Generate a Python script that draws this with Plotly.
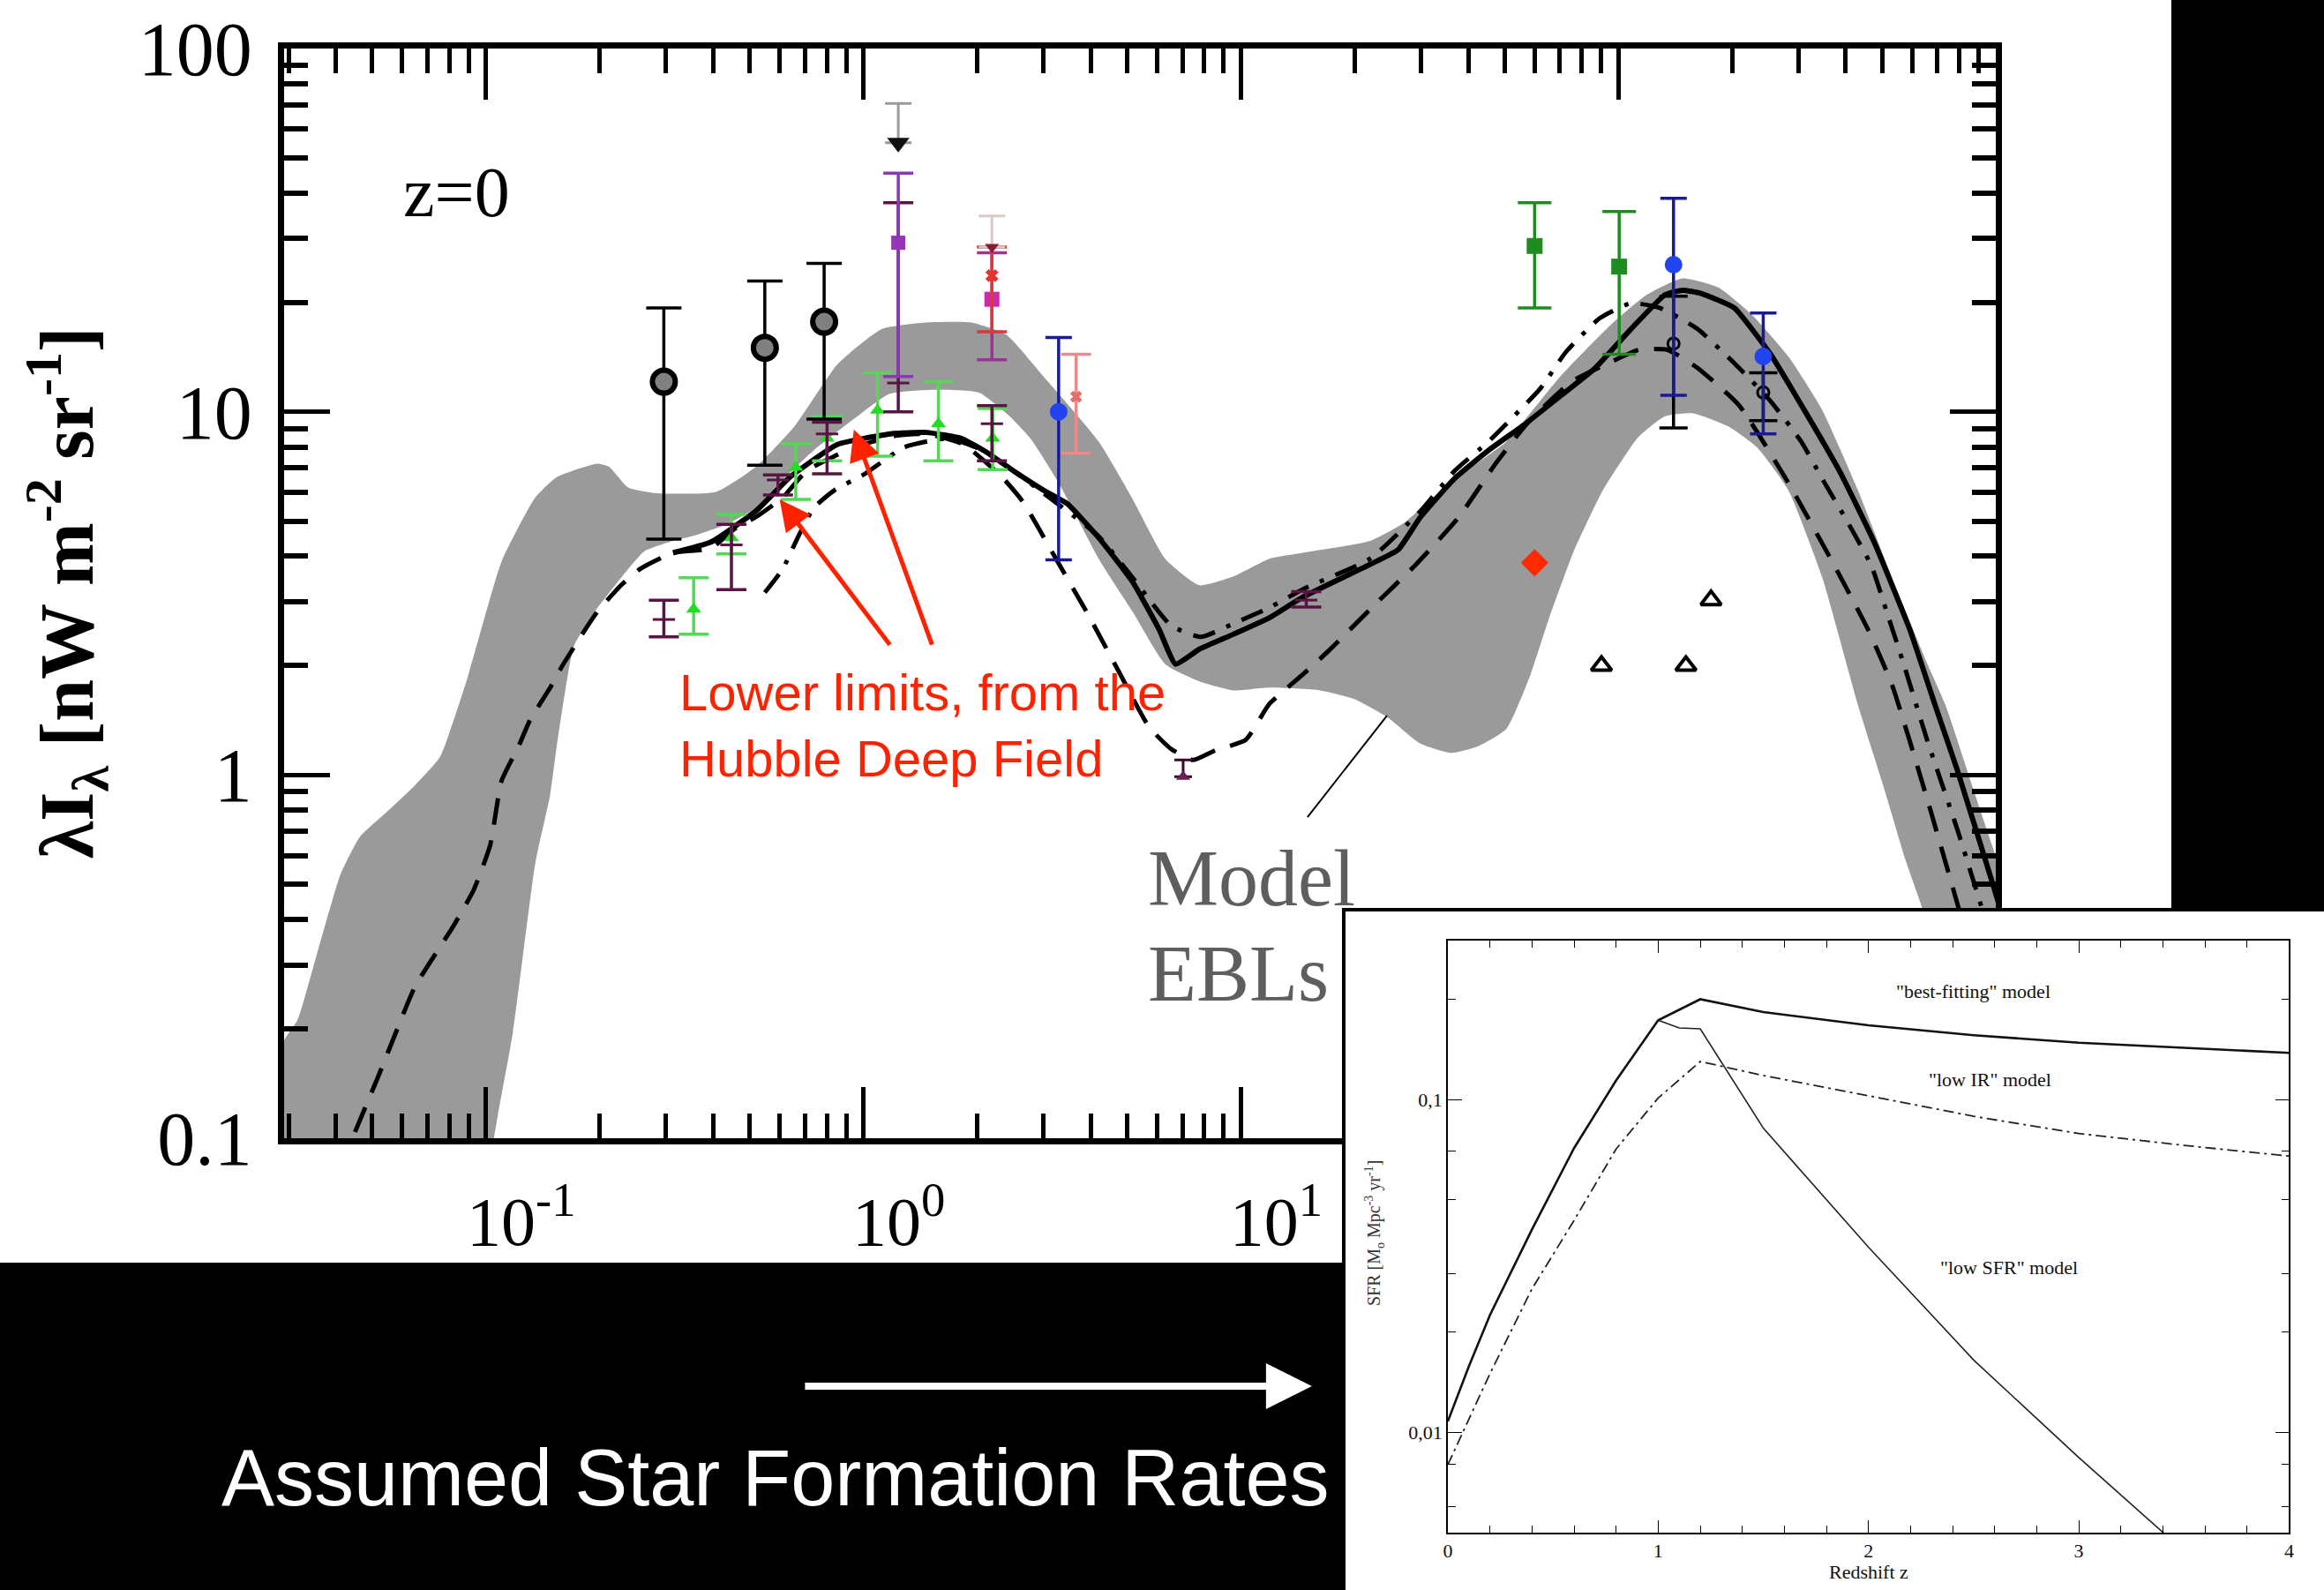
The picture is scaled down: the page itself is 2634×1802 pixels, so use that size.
import plotly.graph_objects as go

W, H = 2634, 1802
SERIF = "Liberation Serif"
SANS = "Liberation Sans"

# ---------------- main panel data (wavelength [micron], lambda*I_lambda [nW m^-2 sr^-1]) -------------
band_upper_wl = [0.0262, 0.0292, 0.0317, 0.0360, 0.0412, 0.0463, 0.0546, 0.0648, 0.0755, 0.0889, 0.110,
                 0.135, 0.154, 0.197, 0.212, 0.238, 0.283, 0.407, 0.519, 0.656, 0.853, 1.12, 1.47, 1.93,
                 2.39, 3.00, 4.20, 5.17, 6.30, 7.76, 9.55, 11.9, 14.6, 22.0, 27.0, 33.3, 41.0, 50.5, 70.6,
                 96.9, 119, 148, 184, 227, 282, 347, 431, 531, 659, 735, 865, 991, 1135]
band_upper_val = [0.130, 0.186, 0.212, 0.333, 0.533, 0.675, 0.791, 0.936, 1.12, 1.82, 3.87, 5.80, 6.61,
                  7.20, 7.06, 6.19, 5.97, 6.02, 7.06, 9.10, 13.5, 16.9, 17.6, 17.6, 16.3, 12.5, 8.28, 5.74,
                  3.94, 3.33, 3.52, 3.94, 4.09, 4.41, 4.94, 5.97, 7.06, 8.28, 12.6, 17.6, 21.0, 23.3, 22.0,
                  18.4, 14.2, 10.1, 6.08, 3.49, 2.02, 1.56, 0.936, 0.614, 0.402]
band_lower_wl = [0.0262, 0.102, 0.105, 0.118, 0.135, 0.148, 0.154, 0.171, 0.194, 0.228, 0.263, 0.313,
                 0.361, 0.433, 0.519, 0.594, 0.738, 0.942, 1.17, 1.54, 2.02, 2.42, 2.77, 3.29, 4.20, 5.17,
                 6.30, 7.76, 9.55, 11.9, 16.2, 19.9, 24.5, 29.9, 36.1, 42.5, 50.5, 58.4, 65.6, 75.9, 91.0,
                 113, 133, 158, 196, 233, 282, 347, 431, 503, 576, 636, 791]
band_lower_val = [0.029, 0.074, 0.1, 0.197, 0.569, 0.885, 1.20, 2.26, 2.81, 3.49, 4.13, 4.41, 4.58, 4.90,
                  5.43, 6.31, 7.83, 9.54, 11.2, 11.5, 11.3, 9.8, 8.44, 6.37, 3.94, 2.81, 2.02, 1.81, 1.71,
                  1.74, 1.71, 1.62, 1.44, 1.22, 1.15, 1.20, 1.34, 1.88, 2.71, 4.09, 6.08, 8.52, 9.72, 9.90,
                  9.10, 7.98, 6.08, 3.49, 1.56, 0.936, 0.585, 0.434, 0.190]

solid_wl = [0.313, 0.395, 0.519, 0.639, 0.853, 1.18, 1.47, 1.82, 2.11, 2.53, 3.00, 3.47, 4.20, 5.17, 6.08,
            6.71, 7.76, 9.55, 11.9, 14.6, 22.0, 26.1, 29.9, 36.8, 45.3, 56.8, 70.6, 86.9, 108, 133, 148,
            165, 203, 253, 311, 387, 476, 592, 690, 791, 991, 1135]
solid_val = [4.09, 4.38, 5.33, 6.61, 8.13, 8.69, 8.77, 8.44, 7.76, 6.81, 6.08, 5.58, 4.50, 3.40, 2.51,
             2.02, 2.22, 2.44, 2.71, 3.09, 3.80, 4.17, 5.13, 6.55, 7.83, 9.28, 11.1, 13.2, 16.9, 21.0, 21.6,
             21.2, 19.3, 14.4, 10.1, 6.81, 4.38, 2.51, 1.56, 1.03, 0.485, 0.303]

dash_wl = [0.0412, 0.0443, 0.0517, 0.0571, 0.0648, 0.082, 0.093, 0.1027, 0.110, 0.122, 0.131, 0.148,
           0.159, 0.183, 0.197, 0.228, 0.256, 0.313, 0.395, 0.457, 0.519, 0.611, 0.706, 0.838, 1.00, 1.23,
           1.47, 1.84, 2.31, 2.65, 3.20, 3.94, 4.72, 5.70, 6.53, 7.48, 8.57, 10.3, 11.9, 14.5, 17.1, 22.0,
           29.1, 37.8, 47.0, 57.3, 75.2, 92.7, 113, 135, 162, 209, 282, 363, 459, 531, 659, 791, 991]
dash_val = [0.081, 0.1, 0.147, 0.190, 0.261, 0.384, 0.485, 0.643, 0.964, 1.20, 1.42, 1.74, 1.99, 2.51,
            2.81, 3.33, 3.69, 4.09, 4.21, 4.77, 5.13, 5.80, 6.87, 7.55, 8.13, 8.61, 8.69, 8.13, 6.67, 5.64,
            4.02, 2.76, 1.95, 1.36, 1.18, 1.10, 1.17, 1.25, 1.57, 1.88, 2.20, 2.86, 3.80, 5.13, 7.13, 9.28,
            12.1, 13.5, 14.8, 14.8, 13.2, 10.4, 6.37, 3.98, 2.51, 1.77, 0.853, 0.442, 0.190]

dd_wl = [0.548, 0.611, 0.675, 0.738, 0.838, 1.01, 1.28, 1.68, 2.11, 3.00, 4.20, 5.17, 6.53, 7.83, 9.55,
         11.9, 14.8, 22.0, 29.9, 36.8, 45.3, 52.4, 62.2, 72.6, 89.3, 108, 129, 162, 203, 251, 305, 350,
         408, 468, 517, 570, 659, 791, 991]
dd_val = [3.18, 3.69, 4.58, 5.43, 6.08, 6.75, 7.98, 8.44, 7.76, 5.97, 4.54, 3.49, 2.58, 2.40, 2.61, 2.89,
          3.27, 3.94, 5.33, 6.87, 8.28, 9.63, 11.6, 14.6, 18.1, 19.9, 19.3, 16.9, 13.6, 10.8, 8.28, 6.43,
          4.90, 3.77, 2.76, 2.02, 1.24, 0.707, 0.333]

# measurements: value, upper and lower end of the error bar
blk_wl, blk_val, blk_hi, blk_lo = [0.296, 0.548, 0.787], [12.1, 15.0, 17.7], [19.3, 22.9, 25.6], [4.46, 7.13, 9.55]
blk2_wl, blk2_val, blk2_hi, blk2_lo = [140, 242], [15.4, 11.3], [20.8, 12.8], [9.02, 9.45]
mar_wl = [0.296, 0.447, 0.594, 0.801, 1.237, 2.19, 14.9]
mar_val = [2.68, 4.30, 6.49, 8.69, 12.0, 9.27, 3.03]
mar_hi = [3.03, 4.90, 6.70, 9.36, 37.6, 10.4, 3.2]
mar_lo = [2.40, 3.24, 5.90, 6.75, 10.0, 7.33, 2.9]
mtri_wl, mtri_val, mtri_hi, mtri_lo = [7.03], [0.99], [1.10], [0.99]
grn_wl = [0.355, 0.447, 0.662, 0.801, 1.09, 1.58, 2.20]
grn_val = [2.86, 4.50, 7.03, 8.45, 10.1, 9.27, 8.45]
grn_hi = [3.49, 5.22, 8.17, 9.72, 12.8, 12.1, 10.2]
grn_lo = [2.44, 4.06, 5.74, 7.33, 7.55, 7.33, 6.93]
pur_wl, pur_val, pur_hi, pur_lo = [1.237], [29.2], [45.4], [12.5]
mag_wl, mag_val, mag_hi, mag_lo = [2.19], [20.4], [27.4], [13.9]
redx_wl, redx_val, redx_hi, redx_lo = [2.19], [23.7], [28.4], [16.6]
pink_wl, pink_val, pink_hi, pink_lo = [3.66], [11.0], [14.4], [7.69]
ulim_wl, ulim_val, ulim_hi = [1.237], [55.0], [70.6]
ulim2_wl, ulim2_val, ulim2_hi = [2.19], [28.4], [34.6]
blu_wl, blu_val, blu_hi, blu_lo = [3.29, 140, 242], [10.0, 25.4, 14.2], [16.0, 38.7, 18.7], [3.91, 11.1, 8.69]
dgr_wl, dgr_val, dgr_hi, dgr_lo = [60.0, 100.5], [28.6, 25.1], [37.6, 35.6], [19.3, 14.4]
dia_wl, dia_val = [60.0], [3.84]
otri_wl, otri_val = [90.2, 151, 176], [2.00, 2.00, 3.03]

# ---------------- inset data (redshift, SFR [Msun Mpc^-3 yr^-1]) ----------------
z_best = [0, 0.1, 0.2, 0.4, 0.6, 0.8, 1.0, 1.2, 1.5, 2.0, 2.5, 3.0, 3.5, 4.0]
sfr_best = [0.0108, 0.0158, 0.0225, 0.0407, 0.0714, 0.114, 0.173, 0.200, 0.183, 0.167, 0.156, 0.148, 0.143, 0.138]
z_lowsfr = [1.0, 1.1, 1.2, 1.5, 2.0, 2.5, 3.0, 3.5]
sfr_lowsfr = [0.173, 0.164, 0.163, 0.082, 0.036, 0.0165, 0.0084, 0.0044]
z_lowir = [0, 0.2, 0.4, 0.6, 0.8, 1.0, 1.2, 1.5, 2.0, 2.5, 3.0, 3.5, 4.0]
sfr_lowir = [0.008, 0.015, 0.027, 0.0433, 0.071, 0.101, 0.130, 0.118, 0.1026, 0.089, 0.079, 0.0728, 0.0676]

main_xticks = [0.1, 1, 10, 100, 1000]
main_xtext = ["10<sup>-1</sup>", "10<sup>0</sup>", "10<sup>1</sup>", "", ""]
main_yticks = [0.1, 1, 10, 100]
main_ytext = ["0.1", "1", "10", "100"]

fig = go.Figure()

# model band
fig.add_trace(go.Scatter(
    x=band_upper_wl + band_lower_wl[::-1], y=band_upper_val + band_lower_val[::-1],
    mode="lines", fill="toself", fillcolor="#9a9a9a",
    line=dict(width=0, color="#9a9a9a", shape="spline", smoothing=0.5),
    hoverinfo="skip", xaxis="x", yaxis="y"))

# model curves
fig.add_trace(go.Scatter(x=dash_wl, y=dash_val, mode="lines",
                         line=dict(color="black", width=5, dash="30px,18px", shape="spline", smoothing=0.5)))
fig.add_trace(go.Scatter(x=dd_wl, y=dd_val, mode="lines",
                         line=dict(color="black", width=5, dash="26px,14px,5px,14px", shape="spline", smoothing=0.5)))
fig.add_trace(go.Scatter(x=solid_wl, y=solid_val, mode="lines",
                         line=dict(color="black", width=6, shape="spline", smoothing=0.4)))


def add_pts(x, y, hi, lo, symbol, size, color, lcolor, lwidth, ecolor, ethick, ecap):
    fig.add_trace(go.Scatter(
        x=x, y=y, mode="markers",
        marker=dict(symbol=symbol, size=size, color=color, line=dict(color=lcolor, width=lwidth)),
        error_y=dict(type="data", symmetric=False,
                     array=[h - v for h, v in zip(hi, y)],
                     arrayminus=[v - l for v, l in zip(y, lo)],
                     color=ecolor, thickness=ethick, width=ecap)))


add_pts(grn_wl, grn_val, grn_hi, grn_lo, "triangle-up", 15, "#22dd22", "#22dd22", 0, "#55d855", 3.5, 17)
add_pts(mar_wl, mar_val, mar_hi, mar_lo, "line-ew", 18, "#5a1444", "#5a1444", 3, "#5a1444", 3.5, 17)
add_pts(mtri_wl, mtri_val, mtri_hi, mtri_lo, "triangle-up", 14, "#6a2050", "#6a2050", 0, "#3a0a2a", 3, 10)
add_pts(pur_wl, pur_val, pur_hi, pur_lo, "square", 16, "#9933bb", "#9933bb", 0, "#8a3ab0", 3.5, 17)
add_pts(mag_wl, mag_val, mag_hi, mag_lo, "square", 17, "#cc2aa8", "#cc2aa8", 0, "#a0309a", 3.5, 17)
add_pts(redx_wl, redx_val, redx_hi, redx_lo, "x", 13, "#e83030", "#e83030", 0, "#d83a3a", 3.5, 17)
add_pts(pink_wl, pink_val, pink_hi, pink_lo, "x", 12, "#e86a6a", "#e86a6a", 0, "#ec8a8a", 3.5, 17)
add_pts(ulim_wl, ulim_val, ulim_hi, ulim_val, "triangle-down", 22, "#111111", "#111111", 0, "#9a9a9a", 3, 15)
add_pts(ulim2_wl, ulim2_val, ulim2_hi, ulim2_val, "triangle-down", 14, "#8a1a3a", "#8a1a3a", 0, "#d8c8c8", 3, 15)
add_pts(blk_wl, blk_val, blk_hi, blk_lo, "circle", 26, "#808080", "black", 6, "black", 3.5, 20)
add_pts(blk2_wl, blk2_val, blk2_hi, blk2_lo, "circle-open", 13, "black", "black", 3, "black", 3.5, 16)
add_pts(blu_wl, blu_val, blu_hi, blu_lo, "circle", 20, "#2244ee", "#2244ee", 0, "#1a1a99", 3.5, 15)
add_pts(dgr_wl, dgr_val, dgr_hi, dgr_lo, "square", 18, "#1e8c1e", "#1e8c1e", 0, "#1e8c1e", 3.5, 19)
fig.add_trace(go.Scatter(x=dia_wl, y=dia_val, mode="markers",
                         marker=dict(symbol="diamond", size=24, color="#ff2a00")))
fig.add_trace(go.Scatter(x=otri_wl, y=otri_val, mode="markers",
                         marker=dict(symbol="triangle-up-open", size=20, color="black", line=dict(width=4))))

# ---------------- cover panel for the inset (drawn above the main panel) ----------------
fig.add_trace(go.Scatter(x=[0, 1, 1, 0, 0], y=[0, 0, 1, 1, 0], mode="lines", fill="toself",
                         fillcolor="white", line=dict(width=0), xaxis="x2", yaxis="y2", hoverinfo="skip"))

# ---------------- inset curves ----------------
fig.add_trace(go.Scatter(x=z_lowsfr, y=sfr_lowsfr, mode="lines", line=dict(color="#222", width=1.6),
                         xaxis="x3", yaxis="y3"))
fig.add_trace(go.Scatter(x=z_lowir, y=sfr_lowir, mode="lines",
                         line=dict(color="#222", width=1.8, dash="12px,5px,3px,5px"), xaxis="x3", yaxis="y3"))
fig.add_trace(go.Scatter(x=z_best, y=sfr_best, mode="lines", line=dict(color="#111", width=2.6),
                         xaxis="x3", yaxis="y3"))

x_minor = [k * 10 ** d for d in range(-2, 3) for k in range(2, 10)]
y_minor = [k * 10 ** d for d in range(-1, 2) for k in range(2, 10)]

tickfont_main = dict(family=SERIF, size=86, color="black")
fig.update_layout(
    width=W, height=H, autosize=False,
    margin=dict(l=0, r=0, t=0, b=0, pad=0, autoexpand=False),
    paper_bgcolor="white", plot_bgcolor="white", showlegend=False,
    xaxis=dict(type="log", range=[-1.535, 3.0], domain=[0.1222, 0.8588], anchor="y", automargin=False,
               showline=True, linewidth=7, linecolor="black", mirror="ticks",
               ticks="inside", ticklen=58, tickwidth=5, tickcolor="black",
               tickvals=main_xticks, ticktext=main_xtext, tickfont=dict(family=SERIF, size=78, color="black"),
               ticklabelstandoff=20, ticklabelshift=40,
               minor=dict(tickmode="array", tickvals=x_minor, ticks="inside", ticklen=28, tickwidth=5,
                          tickcolor="black", showgrid=False),
               showgrid=False, zeroline=False),
    yaxis=dict(type="log", range=[-1, 2], domain=[0.2841, 0.9695], anchor="x", automargin=False,
               showline=True, linewidth=7, linecolor="black", mirror="ticks",
               ticks="inside", ticklen=52, tickwidth=5, tickcolor="black",
               tickvals=main_yticks, ticktext=main_ytext, tickfont=tickfont_main, ticklabelstandoff=12,
               minor=dict(tickmode="array", tickvals=y_minor, ticks="inside", ticklen=27, tickwidth=6,
                          tickcolor="black", showgrid=False),
               showgrid=False, zeroline=False),
    xaxis2=dict(domain=[0.579, 1.0], range=[0, 1], anchor="y2", showline=True, linewidth=4,
                linecolor="black", mirror=True, showticklabels=False, ticks="", showgrid=False,
                zeroline=False, fixedrange=True, automargin=False),
    yaxis2=dict(domain=[0.0, 0.4267], range=[0, 1], anchor="x2", showline=True, linewidth=4,
                linecolor="black", mirror=True, showticklabels=False, ticks="", showgrid=False,
                zeroline=False, fixedrange=True, automargin=False),
    xaxis3=dict(domain=[0.623, 0.985], range=[0, 4], anchor="y3", showline=True, linewidth=1.6,
                linecolor="black", mirror="ticks", ticks="inside", ticklen=14, tickwidth=1.4, automargin=False,
                tickcolor="black", tickvals=[0, 1, 2, 3, 4], tickfont=dict(family=SERIF, size=22, color="#111"),
                minor=dict(tickmode="array", tickvals=[0.2 * i for i in range(1, 20) if i % 5],
                           ticks="inside", ticklen=8, tickwidth=1.2, tickcolor="black"),
                showgrid=False, zeroline=False),
    yaxis3=dict(type="log", domain=[0.0361, 0.4084], range=[-2.301, -0.523], anchor="x3", automargin=False,
                showline=True, linewidth=1.6, linecolor="black", mirror="ticks", ticks="inside",
                ticklen=16, tickwidth=1.4, tickcolor="black", tickvals=[0.01, 0.1], ticktext=["0,01", "0,1"],
                tickfont=dict(family=SERIF, size=22, color="#111"),
                minor=dict(tickmode="array", tickvals=[0.006, 0.008, 0.02, 0.03, 0.05, 0.07, 0.2],
                           ticks="inside", ticklen=9, tickwidth=1.2, tickcolor="black"),
                showgrid=False, zeroline=False),
)

# black background areas
fig.add_shape(type="rect", xref="paper", yref="paper", x0=-0.01, x1=0.579, y0=-0.01, y1=0.2059,
              fillcolor="black", line=dict(width=0), layer="below")
fig.add_shape(type="rect", xref="paper", yref="paper", x0=0.9343, x1=1.01, y0=0.4267, y1=1.01,
              fillcolor="black", line=dict(width=0), layer="below")
# pointer from "Model EBLs" to the band
fig.add_shape(type="line", xref="paper", yref="paper", x0=0.5626, y0=0.4861, x1=0.5968, y1=0.5499,
              line=dict(color="black", width=2), layer="above")


def txt(text, x, y, size, color, family=SERIF, xanchor="center", yanchor="middle", angle=0, xref="paper",
        yref="paper", align="center"):
    return dict(text=text, xref=xref, yref=yref, x=x, y=y, xanchor=xanchor, yanchor=yanchor,
                textangle=angle, showarrow=False, align=align, font=dict(family=family, size=size, color=color))


ann = [
    txt("<b>λI<sub>λ</sub> [nW m<sup>-2</sup> sr<sup>-1</sup>]</b>", 0.0285, 0.627, 86, "black", angle=-90),
    txt("z=0", 0.1963, 0.879, 80, "black"),
    txt("Lower limits, from the<br>Hubble Deep Field", 0.2916, 0.5438, 58, "#ff2200", family=SANS,
        xanchor="left", align="left"),
    dict(text="", xref="x", yref="y", axref="x", ayref="y", x=-0.222, y=0.759, ax=0.0727, ay=0.355,
         showarrow=True, arrowhead=2, arrowsize=1.4, arrowwidth=5, arrowcolor="#ff2200"),
    dict(text="", xref="x", yref="y", axref="x", ayref="y", x=-0.0255, y=0.951, ax=0.183, ay=0.355,
         showarrow=True, arrowhead=2, arrowsize=1.4, arrowwidth=5, arrowcolor="#ff2200"),
    txt("Model", 0.4932, 0.4473, 90, "#5e5e5e", xanchor="left"),
    txt("EBLs", 0.4932, 0.3874, 90, "#5e5e5e", xanchor="left"),
    dict(text="", xref="paper", yref="paper", x=0.5645, y=0.1282, ax=-576, ay=0,
         showarrow=True, arrowhead=2, arrowsize=1.3, arrowwidth=8, arrowcolor="white"),
    txt("Assumed Star Formation Rates", 0.3337, 0.0705, 90, "white", family=SANS),
    # inset texts
    txt("\"best-fitting\" model", 2.5, -0.676, 22, "#111", xref="x3", yref="y3"),
    txt("\"low IR\" model", 2.58, -0.94, 22, "#111", xref="x3", yref="y3"),
    txt("\"low SFR\" model", 2.67, -1.504, 22, "#111", xref="x3", yref="y3"),
    txt("Redshift z", 0.804, 0.0115, 22, "#111"),
    txt("SFR [M<sub>o</sub> Mpc<sup>-3</sup> yr<sup>-1</sup>]", 0.5915, 0.2242, 20, "#333", angle=-90),
]
fig.update_layout(annotations=ann)

fig.write_html("out.html")
